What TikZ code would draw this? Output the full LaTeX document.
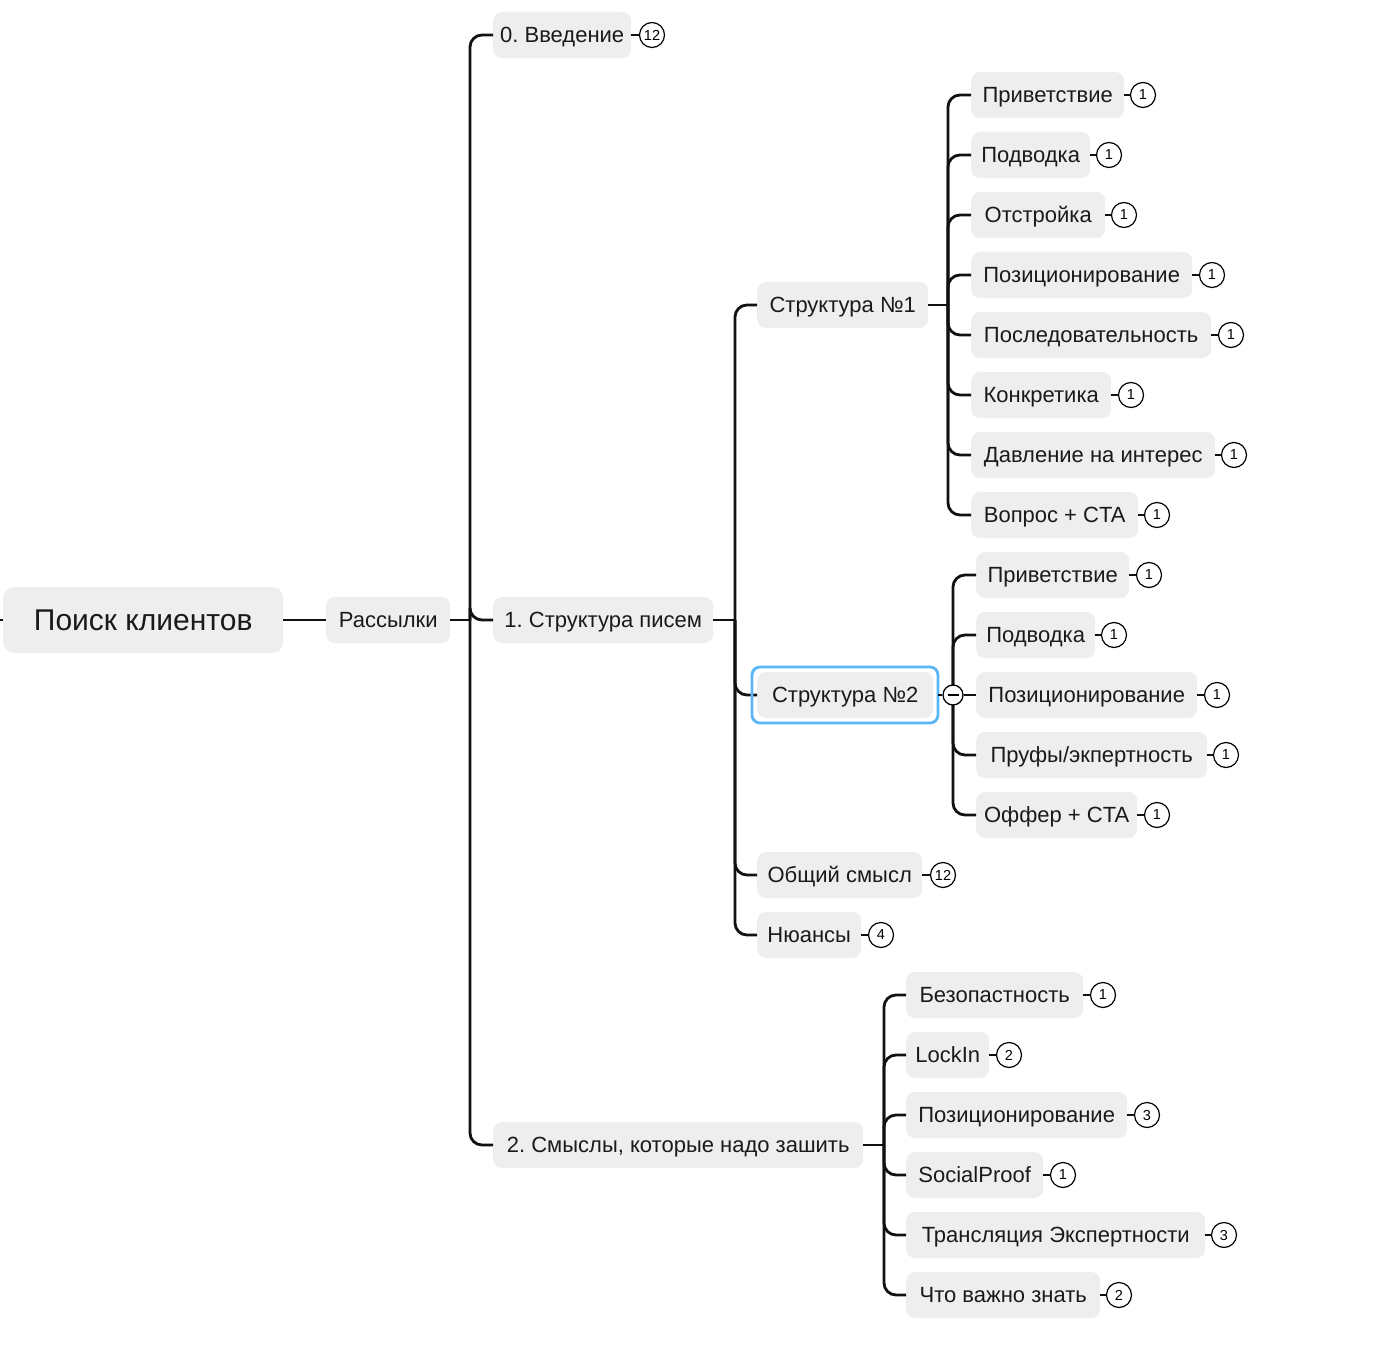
\documentclass[tikz,border=0pt]{standalone}
\usepackage{fontspec}
\setmainfont{Liberation Sans}
\frenchspacing
\begin{document}
\begin{tikzpicture}[x=1pt,y=-1pt,
  box/.style={fill=boxgray,rounded corners=9pt,minimum height=46pt,inner xsep=0pt,anchor=west,
    text height=15.5pt,text depth=0pt,
    font=\fontsize{22}{26}\selectfont,text=txt},
  cnt/.style={circle,draw=black,line width=1.2pt,fill=white,minimum size=25pt,inner sep=0pt,
    font=\fontsize{14.5}{16}\selectfont},
  conn/.style={line width=2.8pt,draw=linec,rounded corners=12pt},
  cconn/.style={line width=2.6pt,draw=linec},
]
\definecolor{boxgray}{HTML}{EEEEEE}
\definecolor{txt}{HTML}{1A1A1A}
\definecolor{linec}{HTML}{111111}
\definecolor{hl}{HTML}{5AB6F4}
\useasboundingbox (0,0) rectangle (1376,1348);
\fill[white] (0,0) rectangle (1376,1348);

% root and level 1
\node[box,minimum width=280pt,minimum height=66pt,rounded corners=11pt,text height=21.5pt,font=\fontsize{30}{34}\selectfont] (root) at (3,620) {Поиск клиентов};
\coordinate (stub) at (0,620);
\draw[conn] (stub) -- (root.west);
\node[box,minimum width=124pt] (ras) at (326,620) {Рассылки};
\draw[conn] (root.east) -- (ras.west);

% level 2
\node[box,minimum width=138pt] (intro) at (493,35) {0. Введение};
\node[box,minimum width=220pt] (s1) at (493,620) {1. Структура писем};
\node[box,minimum width=370pt] (s2) at (493,1145) {2. Смыслы, которые надо зашить};
\coordinate (j0) at (470,620);
\draw[conn] (ras.east) -- (j0);
\foreach \c in {intro,s1,s2} \draw[conn] (j0) |- (\c.west);
\node[cnt] (introc) at (652,35) {12};
\draw[cconn] (intro.east) -- (introc.west);

% level 3 under s1
\node[box,minimum width=171pt] (st1) at (757,305) {Структура №1};
\node[box,minimum width=176pt] (st2) at (757,695) {Структура №2};
\node[box,minimum width=165pt] (obsh) at (757,875) {Общий смысл};
\node[box,minimum width=104pt] (nuans) at (757,935) {Нюансы};
\coordinate (j1) at (735,620);
\draw[conn] (s1.east) -- (j1);
\foreach \c in {st1,st2,obsh,nuans} \draw[conn] (j1) |- (\c.west);
\draw[hl,line width=2.8pt,rounded corners=8pt] (752,667) rectangle (938,723);
\node[cnt] (obshc) at (943,875) {12};
\draw[cconn] (obsh.east) -- (obshc.west);
\node[cnt] (nuansc) at (881,935) {4};
\draw[cconn] (nuans.east) -- (nuansc.west);

% Структура №1 children
\coordinate (j2) at (948,305);
\draw[conn] (st1.east) -- (j2);
\foreach \n/\r/\y/\cx/\t in {
  a1/153/95/1143/{Приветствие},
  a2/119/155/1109/{Подводка},
  a3/134/215/1124/{Отстройка},
  a4/221/275/1212/{Позиционирование},
  a5/240/335/1231/{Последовательность},
  a6/140/395/1131/{Конкретика},
  a7/244/455/1234/{Давление на интерес},
  a8/167/515/1157/{Вопрос + CTA}}{
  \node[box,minimum width=\r pt] (\n) at (971,\y) {\t};
  \draw[conn] (j2) |- (\n.west);
  \node[cnt] (\n c) at (\cx,\y) {1};
  \draw[cconn] (\n.east) -- (\n c.west);
}

% Структура №2 children
\coordinate (st2r) at (938,695);
\coordinate (j3) at (953,695);
\foreach \n/\r/\y/\cx/\t in {
  b1/153/575/1149/{Приветствие},
  b2/119/635/1114/{Подводка},
  b4/231/755/1226/{Пруфы/экпертность},
  b5/161/815/1157/{Оффер + CTA}}{
  \node[box,minimum width=\r pt] (\n) at (976,\y) {\t};
  \draw[conn] (j3) |- (\n.west);
  \node[cnt] (\n c) at (\cx,\y) {1};
  \draw[cconn] (\n.east) -- (\n c.west);
}
\node[box,minimum width=221pt] (b3) at (976,695) {Позиционирование};
\node[cnt] (b3c) at (1217,695) {1};
\draw[cconn] (b3.east) -- (b3c.west);
\node[circle,draw=black,line width=1.3pt,fill=white,minimum size=20pt,inner sep=0pt] (tog) at (953,695) {};
\draw[line width=1.2pt] ([xshift=-5.5pt]tog.center) -- ([xshift=5.5pt]tog.center);
\draw[cconn] (st2r) -- (tog.west);
\draw[conn] (tog.east) -- (b3.west);

% Смыслы children
\coordinate (j4) at (884,1145);
\draw[conn] (s2.east) -- (j4);
\foreach \n/\r/\y/\cx/\k/\t in {
  c1/177/995/1103/1/{Безопастность},
  c2/83/1055/1009/2/{LockIn},
  c3/221/1115/1147/3/{Позиционирование},
  c4/137/1175/1063/1/{SocialProof},
  c5/299/1235/1224/3/{Трансляция Экспертности},
  c6/194/1295/1119/2/{Что важно знать}}{
  \node[box,minimum width=\r pt] (\n) at (906,\y) {\t};
  \draw[conn] (j4) |- (\n.west);
  \node[cnt] (\n c) at (\cx,\y) {\k};
  \draw[cconn] (\n.east) -- (\n c.west);
}
\end{tikzpicture}
\end{document}
